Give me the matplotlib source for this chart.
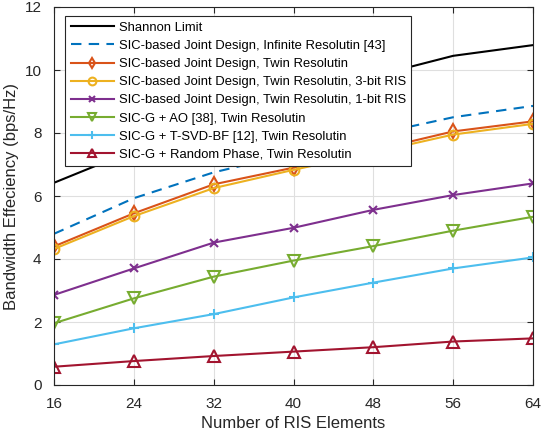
import numpy as np
import matplotlib
matplotlib.use('Agg')
import matplotlib.pyplot as plt

# RIS element counts (x axis)
n_elements = [16, 24, 32, 40, 48, 56, 64]

# Bandwidth efficiency (bps/Hz)
shannon = [6.42, 7.45, 8.3, 9.05, 9.8, 10.45, 10.79]
infinite_res = [4.8, 5.93, 6.75, 7.35, 7.95, 8.5, 8.86]
twin_res = [4.4, 5.45, 6.37, 6.9, 7.45, 8.05, 8.37]
twin_res_3bit = [4.32, 5.36, 6.25, 6.83, 7.38, 7.95, 8.29]
twin_res_1bit = [2.86, 3.7, 4.52, 4.99, 5.56, 6.03, 6.4]
sicg_ao = [1.96, 2.75, 3.44, 3.95, 4.41, 4.9, 5.34]
sicg_tsvd = [1.29, 1.8, 2.25, 2.78, 3.25, 3.7, 4.05]
sicg_random = [0.58, 0.76, 0.92, 1.06, 1.2, 1.38, 1.48]

plt.rcParams['font.family'] = ['Liberation Sans', 'DejaVu Sans']

fig = plt.figure(figsize=(5.42, 4.32), dpi=100)
ax = fig.add_axes([54 / 542, 1 - 385 / 432, (533 - 54) / 542, (385 - 7) / 432])

lw = 1.5
ms = 7
ax.plot(n_elements, shannon, '-', color='black', lw=lw, label='Shannon Limit')
ax.plot(n_elements, infinite_res, '--', color='#0072BD', lw=lw, dashes=(5, 3.5),
        label='SIC-based Joint Design, Infinite Resolutin [43]')
ax.plot(n_elements, twin_res, '-d', color='#D95319', lw=lw, ms=ms, mfc='none', mew=1.5,
        label='SIC-based Joint Design, Twin Resolutin')
ax.plot(n_elements, twin_res_3bit, '-o', color='#EDB120', lw=lw, ms=ms, mfc='none', mew=1.5,
        label='SIC-based Joint Design, Twin Resolutin, 3-bit RIS')
ax.plot(n_elements, twin_res_1bit, '-x', color='#7E2F8E', lw=lw, ms=6, mew=1.5,
        label='SIC-based Joint Design, Twin Resolutin, 1-bit RIS')
ax.plot(n_elements, sicg_ao, '-v', color='#77AC30', lw=lw, ms=ms + 1, mfc='none', mew=1.5,
        label='SIC-G + AO [38], Twin Resolutin')
ax.plot(n_elements, sicg_tsvd, '-+', color='#4DBEEE', lw=lw, ms=ms, mew=1.5,
        label='SIC-G + T-SVD-BF [12], Twin Resolutin')
ax.plot(n_elements, sicg_random, '-^', color='#A2142F', lw=lw, ms=ms + 1, mfc='none', mew=1.5,
        label='SIC-G + Random Phase, Twin Resolutin')

ax.set_xlim(16, 64)
ax.set_ylim(0, 12)
ax.set_xticks(n_elements)
ax.set_yticks(np.arange(0, 13, 2))
ax.grid(True, color='#dfdfdf', lw=0.8)
ax.set_axisbelow(True)
for sp in ax.spines.values():
    sp.set_color('#262626')
    sp.set_linewidth(0.8)
ax.tick_params(direction='in', top=True, right=True, labelsize=11, colors='#262626',
               length=4, pad=9)
ax.set_xlabel('Number of RIS Elements', fontsize=12, color='#262626', labelpad=3)
ax.set_ylabel('Bandwidth Effeciency (bps/Hz)', fontsize=12, color='#262626', labelpad=4)

leg = ax.legend(loc='upper left', bbox_to_anchor=(0.024, 0.975), fontsize=9.4,
                handlelength=3.3, handletextpad=0.4, borderpad=0.4, labelspacing=0.46,
                markerscale=0.8, fancybox=False, framealpha=1, edgecolor='#262626',
                borderaxespad=0)
leg.get_frame().set_linewidth(0.8)

fig.savefig('out.png', dpi=100)
